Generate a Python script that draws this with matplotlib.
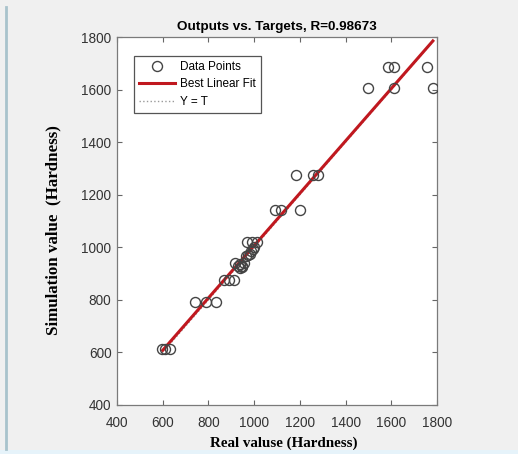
import matplotlib
matplotlib.use("Agg")
import matplotlib.pyplot as plt
from matplotlib.lines import Line2D

# Data
real_x = [597, 612, 631, 743, 789, 831, 869, 891, 911,
          916, 930, 940, 948, 955, 936, 945,
          965, 972, 980, 988, 996, 1000, 1012, 967, 990,
          1091, 1116, 1201, 1183, 1256, 1278,
          1497, 1610, 1782, 1585, 1610, 1756]
sim_y = [612, 612, 612, 790, 790, 790, 875, 875, 875,
         940, 928, 935, 925, 940, 920, 930,
         965, 970, 975, 985, 995, 1000, 1020, 1020, 1020,
         1140, 1140, 1140, 1275, 1275, 1275,
         1607, 1607, 1607, 1685, 1685, 1685]
fit_x = [600, 1782]
fit_y = [608, 1785]
yt_x = [597, 1782]
yt_y = [597, 1782]

title = "Outputs vs. Targets, R=0.98673"
xlabel = "Real valuse (Hardness)"
ylabel = "Simulation value  (Hardness)"
ticks = [400, 600, 800, 1000, 1200, 1400, 1600, 1800]

fig = plt.figure(figsize=(5.18, 4.54), dpi=100, facecolor="#f0f0f0")
# left accent line and bottom strip
fig.add_artist(Line2D([0.011, 0.011], [0.01, 0.985], transform=fig.transFigure,
                      color="#a9c3cc", lw=2))
fig.add_artist(plt.Rectangle((0, 0), 1, 0.009, transform=fig.transFigure,
                             color="#e6f3fa", lw=0))

ax = fig.add_axes([0.2259, 0.108, 0.6177, 0.8105])
ax.set_facecolor("white")

ax.plot(yt_x, yt_y, linestyle=":", color="#9a9a9a", lw=1, label="Y = T", zorder=1)
ax.plot(fit_x, fit_y, color="#c0181f", lw=2.2, label="Best Linear Fit", zorder=2)
ax.plot(real_x, sim_y, linestyle="none", marker="o", markersize=7.2,
        markerfacecolor="none", markeredgecolor="#444444", markeredgewidth=1.0,
        label="Data Points", zorder=3)

ax.set_xlim(400, 1800)
ax.set_ylim(400, 1800)
ax.set_xticks(ticks)
ax.set_yticks(ticks)
sans = ["Liberation Sans", "DejaVu Sans"]
serif = ["Liberation Serif", "DejaVu Serif"]
ax.set_xticklabels([str(t) for t in ticks], fontsize=9.8, family=sans, color="#333333")
ax.set_yticklabels([str(t) for t in ticks], fontsize=9.8, family=sans, color="#333333")
ax.tick_params(direction="in", length=3.5, top=True, right=True, color="#666666")
ax.tick_params(axis="x", pad=8)
ax.tick_params(axis="y", pad=4)
for s in ax.spines.values():
    s.set_color("#7a7a7a")
    s.set_linewidth(0.9)

ax.set_title(title, fontsize=9.7, fontweight="bold", family=sans, pad=5)
ax.set_xlabel(xlabel, fontsize=10.8, fontweight="bold", family=serif, labelpad=1)
ax.xaxis.set_label_coords(0.52, -0.085)
ax.set_ylabel(ylabel, fontsize=12.2, fontweight="bold", family=serif)
ax.yaxis.set_label_coords(-0.175, 0.475)

h, l = ax.get_legend_handles_labels()
order = [2, 1, 0]
leg = ax.legend([h[i] for i in order], [l[i] for i in order], loc="upper left",
                bbox_to_anchor=(0.035, 0.965), fancybox=False, framealpha=1,
                edgecolor="#555555", prop={"family": sans, "size": 8.5},
                handlelength=3.0, borderpad=0.45, labelspacing=0.45, handletextpad=0.4)
leg.get_frame().set_linewidth(0.9)

fig.savefig("out.png", dpi=100, facecolor=fig.get_facecolor())
